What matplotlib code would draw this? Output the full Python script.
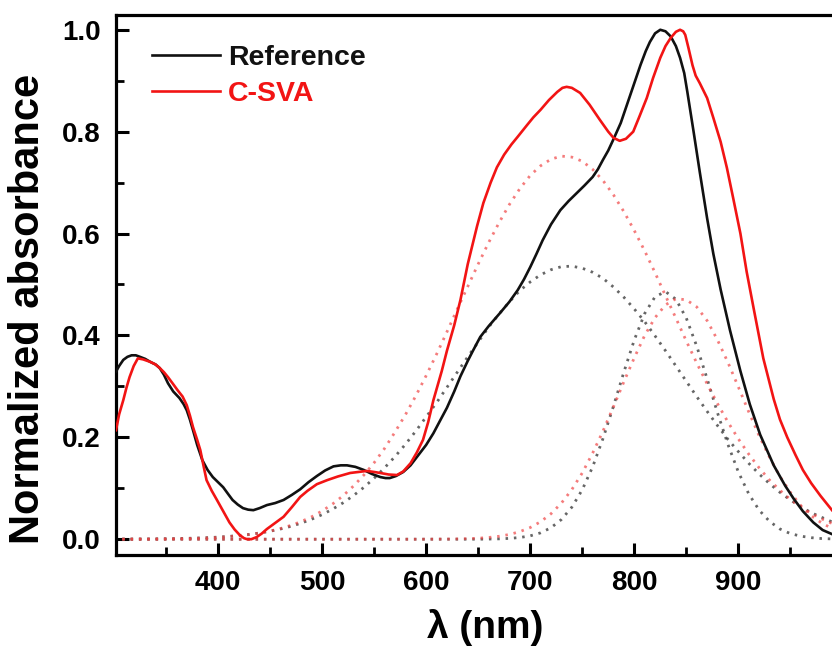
import matplotlib
matplotlib.use("Agg")
import matplotlib.pyplot as plt
from matplotlib.ticker import MultipleLocator, FormatStrFormatter

# ---- data ----
ref_wl = [302, 305, 309, 313, 317, 321, 325, 330, 335, 340, 344, 348, 352, 357, 363, 367,
          370, 373, 376, 380, 385, 390, 395, 400, 405, 410, 414, 419, 424, 429, 434, 440,
          447, 455, 463, 471, 479, 487, 495, 503, 511, 518, 524, 532, 540, 548, 556, 561,
          565, 571, 578, 585, 591, 600, 607, 614, 620, 627, 633, 640, 645, 652, 660, 671,
          680, 688, 694, 700, 706, 712, 720, 729, 737, 745, 752, 760, 765, 770, 775, 780,
          787, 793, 800, 806, 811, 815, 820, 825, 830, 835, 840, 844, 848, 851, 857, 863,
          870, 876, 883, 892, 902, 911, 921, 934, 945, 953, 962, 972, 981, 990]
ref_abs = [0.329, 0.340, 0.352, 0.358, 0.361, 0.361, 0.358, 0.354, 0.348, 0.343, 0.336, 0.323,
           0.306, 0.290, 0.277, 0.265, 0.253, 0.235, 0.214, 0.185, 0.155, 0.136, 0.122, 0.112,
           0.102, 0.088, 0.077, 0.068, 0.061, 0.058, 0.057, 0.061, 0.067, 0.071, 0.077, 0.087,
           0.098, 0.112, 0.124, 0.135, 0.143, 0.145, 0.145, 0.142, 0.136, 0.128, 0.122, 0.120,
           0.120, 0.124, 0.132, 0.145, 0.161, 0.185, 0.208, 0.235, 0.258, 0.290, 0.320, 0.350,
           0.370, 0.397, 0.418, 0.444, 0.466, 0.489, 0.510, 0.534, 0.560, 0.587, 0.618, 0.646,
           0.664, 0.680, 0.694, 0.711, 0.726, 0.745, 0.763, 0.785, 0.817, 0.853, 0.895, 0.931,
           0.958, 0.976, 0.993, 1.000, 0.997, 0.987, 0.968, 0.945, 0.915, 0.878, 0.800, 0.720,
           0.630, 0.560, 0.490, 0.410, 0.330, 0.265, 0.205, 0.145, 0.105, 0.080, 0.055, 0.033,
           0.018, 0.010]

csva_wl = [302, 305, 309, 312, 315, 319, 323, 328, 335, 340, 344, 348, 352, 356, 361, 366,
           370, 373, 376, 380, 383, 386, 389, 394, 399, 405, 411, 416, 421, 425, 428, 432,
           437, 442, 447, 455, 463, 471, 479, 486, 495, 505, 515, 527, 535, 543, 550, 556,
           564, 572, 578, 585, 591, 597, 602, 607, 615, 620, 627, 633, 640, 649, 655, 662,
           668, 675, 682, 688, 697, 703, 710, 718, 726, 731, 735, 740, 748, 757, 767, 775,
           780, 786, 792, 799, 805, 812, 818, 825, 830, 835, 840, 844, 847, 849, 852, 856,
           859, 863, 870, 876, 883, 889, 895, 902, 908, 915, 924, 934, 940, 947, 955, 962,
           970, 979, 990]
csva_abs = [0.214, 0.245, 0.273, 0.297, 0.318, 0.340, 0.355, 0.353, 0.348, 0.343, 0.336, 0.328,
            0.318, 0.307, 0.293, 0.280, 0.263, 0.243, 0.220, 0.195, 0.175, 0.145, 0.116, 0.095,
            0.077, 0.055, 0.033, 0.019, 0.008, 0.002, 0.000, 0.000, 0.004, 0.011, 0.020, 0.032,
            0.044, 0.063, 0.083, 0.095, 0.108, 0.116, 0.123, 0.130, 0.132, 0.134, 0.132, 0.130,
            0.127, 0.126, 0.133, 0.149, 0.170, 0.195, 0.230, 0.273, 0.330, 0.370, 0.420, 0.470,
            0.540, 0.615, 0.660, 0.700, 0.730, 0.755, 0.775, 0.790, 0.813, 0.828, 0.843, 0.862,
            0.878, 0.886, 0.888, 0.886, 0.876, 0.853, 0.823, 0.800, 0.788, 0.782, 0.786, 0.800,
            0.830, 0.866, 0.905, 0.945, 0.968, 0.984, 0.996, 1.000, 0.997, 0.990, 0.965, 0.930,
            0.910, 0.895, 0.866, 0.827, 0.780, 0.729, 0.670, 0.600, 0.525, 0.450, 0.355, 0.275,
            0.235, 0.200, 0.165, 0.136, 0.110, 0.085, 0.057]

# fitted component curves (dotted), sampled every 10 nm from 300 to 990
comp_wl = list(range(300, 1000, 10))
ref_low = [0.0001, 0.0002, 0.0003, 0.0004, 0.0006, 0.0009, 0.0012, 0.0017, 0.0023, 0.0031,
           0.0041, 0.0055, 0.0072, 0.0094, 0.0122, 0.0157, 0.0200, 0.0252, 0.0316, 0.0392,
           0.0482, 0.0589, 0.0712, 0.0854, 0.1015, 0.1197, 0.140, 0.162, 0.186, 0.212,
           0.240, 0.268, 0.298, 0.328, 0.358, 0.387, 0.416, 0.442, 0.466, 0.488,
           0.505, 0.519, 0.529, 0.535, 0.536, 0.532, 0.524, 0.512, 0.495, 0.475,
           0.452, 0.427, 0.399, 0.370, 0.340, 0.310, 0.280, 0.251, 0.223, 0.196,
           0.172, 0.149, 0.128, 0.109, 0.092, 0.077, 0.064, 0.052, 0.043, 0.034]
csva_low = [0.0001, 0.0001, 0.0002, 0.0003, 0.0004, 0.0007, 0.0009, 0.0013, 0.0019, 0.0026,
            0.0036, 0.0050, 0.0068, 0.0091, 0.0121, 0.0160, 0.0209, 0.0271, 0.0347, 0.044,
            0.0554, 0.0689, 0.085, 0.104, 0.1256, 0.150, 0.178, 0.210, 0.244, 0.281,
            0.321, 0.363, 0.407, 0.452, 0.496, 0.540, 0.582, 0.621, 0.657, 0.688,
            0.714, 0.733, 0.746, 0.752, 0.750, 0.742, 0.726, 0.704, 0.676, 0.643,
            0.606, 0.566, 0.523, 0.478, 0.434, 0.389, 0.346, 0.305, 0.266, 0.230,
            0.197, 0.167, 0.140, 0.116, 0.096, 0.078, 0.063, 0.051, 0.040, 0.031]
ref_high = [0.0] * 36 + [0.0003, 0.0007, 0.0016, 0.0033,
            0.0066, 0.0125, 0.0226, 0.0387, 0.0628, 0.097, 0.142, 0.198, 0.261, 0.328,
            0.391, 0.443, 0.476, 0.486, 0.471, 0.434, 0.379, 0.315, 0.248, 0.186,
            0.132, 0.089, 0.057, 0.035, 0.020, 0.011, 0.006, 0.003, 0.0013, 0.0006]
csva_high = [0.0] * 30 + [0.0001, 0.0002, 0.0003, 0.0006, 0.0011, 0.0019, 0.0034, 0.0057, 0.0093, 0.0148,
             0.0229, 0.0343, 0.050, 0.0709, 0.0974, 0.130, 0.169, 0.2125, 0.260, 0.309,
             0.356, 0.400, 0.435, 0.460, 0.472, 0.470, 0.456, 0.429, 0.391, 0.347,
             0.299, 0.250, 0.203, 0.161, 0.123, 0.092, 0.066, 0.046, 0.032, 0.021]

x_ticks = [400, 500, 600, 700, 800, 900]
y_ticks = [0.0, 0.2, 0.4, 0.6, 0.8, 1.0]

# ---- figure ----
plt.rcParams['font.family'] = ['Liberation Sans', 'DejaVu Sans']
plt.rcParams['font.weight'] = 'bold'

fig = plt.figure(figsize=(8.32, 6.46), dpi=100)
ax = fig.add_axes([116 / 832, 1 - 555 / 646, 1 - 116 / 832, (555 - 15) / 646])

BLACK = '#111111'
RED = '#f21414'

dot = (0, (0.9, 2.1))
ax.plot(comp_wl, ref_low, color='#333333', lw=2.0, ls=dot, alpha=0.75, zorder=2)
ax.plot(comp_wl, ref_high, color='#333333', lw=2.0, ls=dot, alpha=0.75, zorder=2)
ax.plot(comp_wl, csva_low, color='#f04545', lw=2.0, ls=dot, alpha=0.7, zorder=2)
ax.plot(comp_wl, csva_high, color='#f04545', lw=2.0, ls=dot, alpha=0.7, zorder=2)

l1, = ax.plot(ref_wl, ref_abs, color=BLACK, lw=1.9, label='Reference', zorder=3,
              solid_joinstyle='round')
l2, = ax.plot(csva_wl, csva_abs, color=RED, lw=1.9, label='C-SVA', zorder=3,
              solid_joinstyle='round')

ax.set_xlim(302, 990)
ax.set_ylim(-0.031, 1.029)

ax.set_xticks(x_ticks)
ax.set_yticks(y_ticks)
ax.xaxis.set_minor_locator(MultipleLocator(50))
ax.yaxis.set_minor_locator(MultipleLocator(0.1))
ax.yaxis.set_major_formatter(FormatStrFormatter('%.1f'))

for s in ['left', 'bottom', 'top']:
    ax.spines[s].set_linewidth(2.3)
ax.spines['right'].set_visible(False)

ax.tick_params(axis='both', which='major', direction='in', length=9, width=2.2,
               labelsize=20, pad=11, top=False, right=False)
ax.tick_params(axis='both', which='minor', direction='in', length=5.5, width=2.0,
               top=False, right=False)
for lab in ax.get_xticklabels() + ax.get_yticklabels():
    lab.set_fontweight('bold')

fig.text(28 / 832, 1 - 309 / 646, 'Normalized absorbance', rotation=90,
         ha='center', va='center', fontsize=30, fontweight='bold')
fig.text(485 / 832, 1 - 627 / 646, 'λ (nm)', ha='center', va='center',
         fontsize=28, fontweight='bold')

leg = ax.legend(handles=[l1, l2], loc='upper left', bbox_to_anchor=(0.034, 0.966),
                frameon=False, fontsize=20.5, handlelength=2.4, handletextpad=0.28,
                labelspacing=0.36, borderaxespad=0.0)
for txt, c in zip(leg.get_texts(), [BLACK, RED]):
    txt.set_color(c)
    txt.set_fontweight('bold')

fig.savefig('out.png', dpi=100)
